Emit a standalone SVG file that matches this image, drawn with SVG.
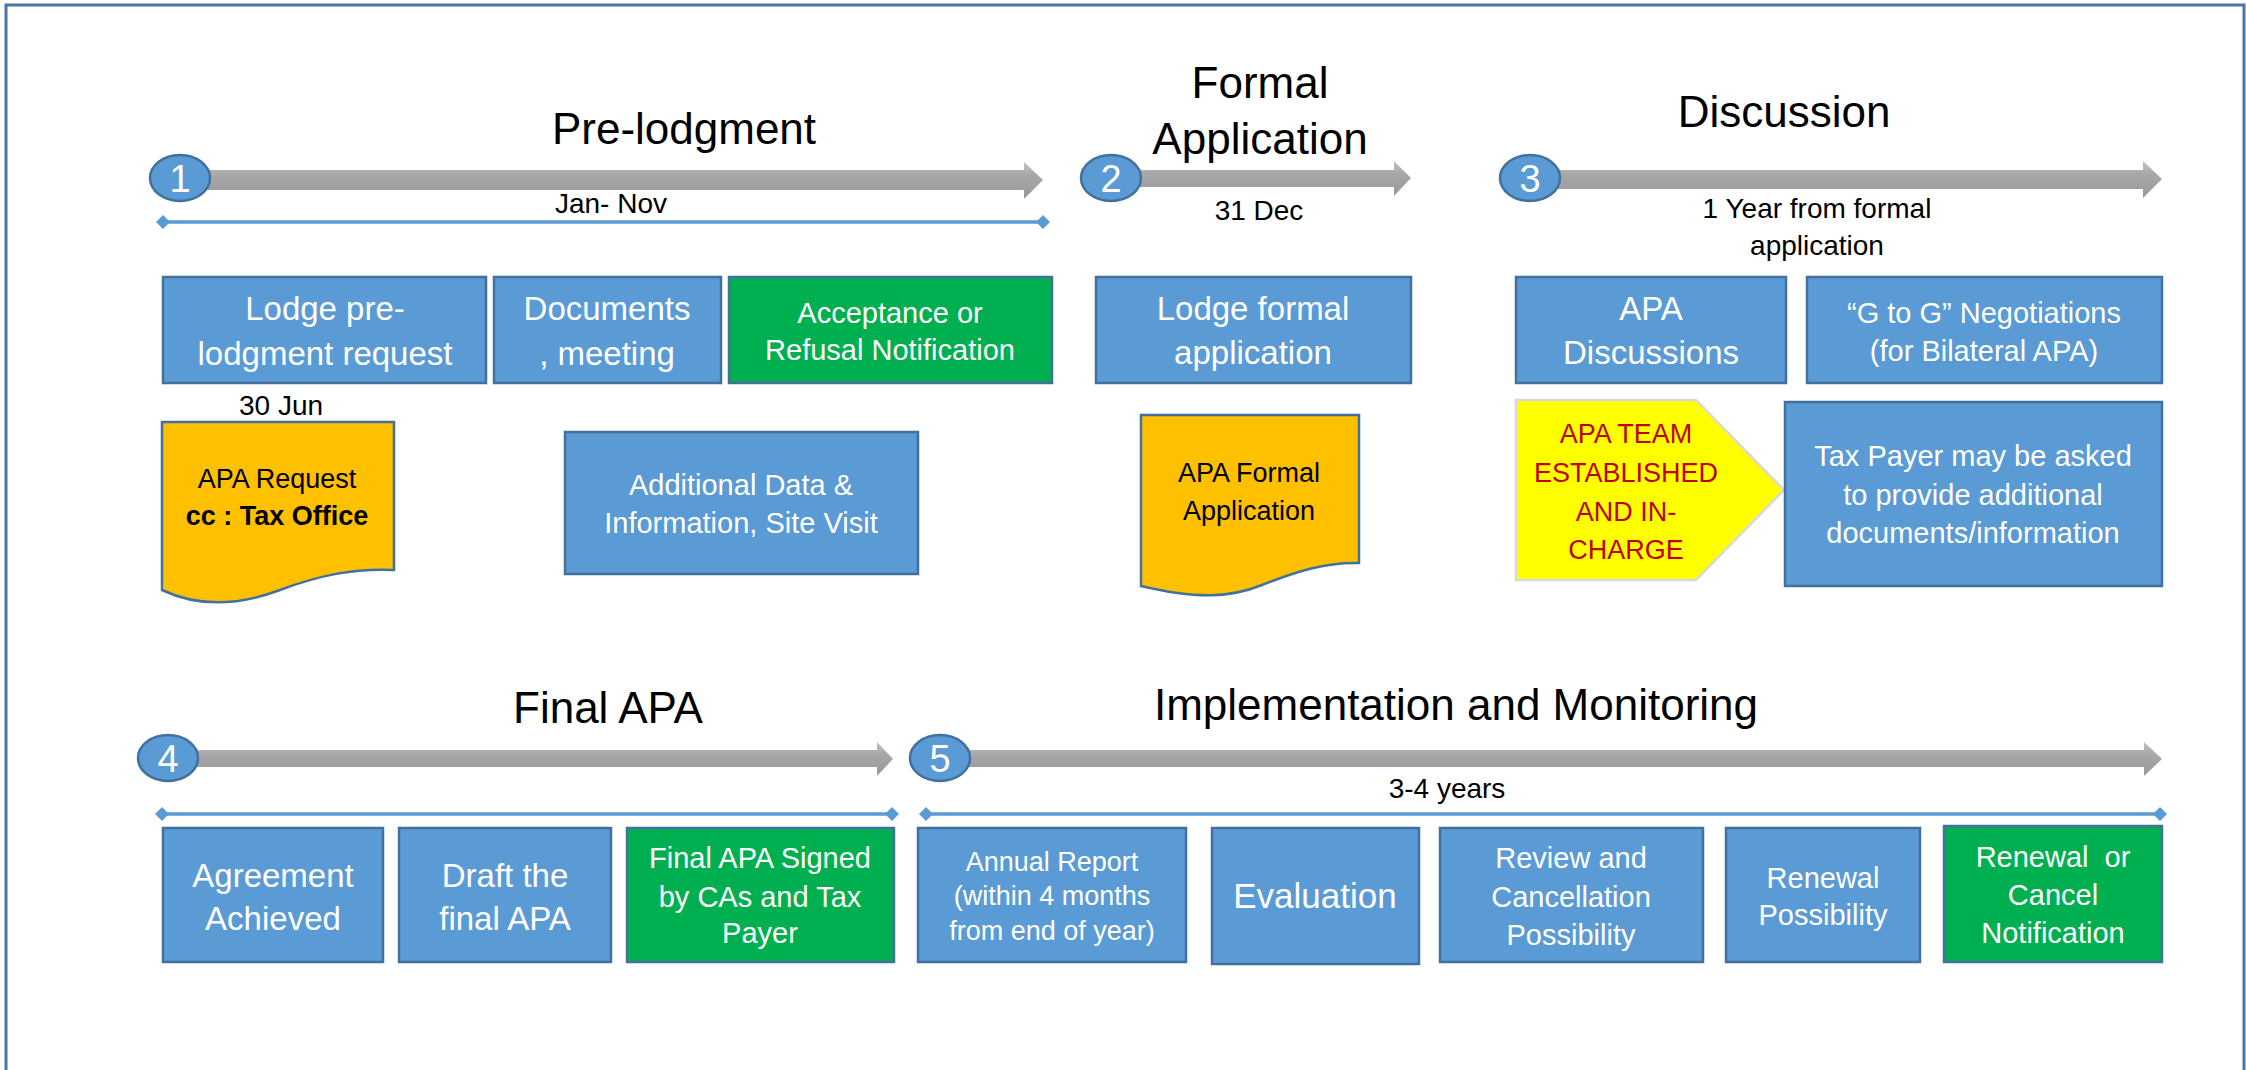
<svg xmlns="http://www.w3.org/2000/svg" width="2246" height="1070" viewBox="0 0 2246 1070">
<defs>
<linearGradient id="gr" x1="0" y1="0" x2="0" y2="1">
<stop offset="0" stop-color="#c4c4c4"/>
<stop offset="0.35" stop-color="#a8a8a8"/>
<stop offset="1" stop-color="#989898"/>
</linearGradient>
<marker id="dm" viewBox="-7 -7 14 14" markerWidth="14" markerHeight="14" markerUnits="userSpaceOnUse" refX="0" refY="0" orient="auto">
<path d="M-7,0 L0,-7 L7,0 L0,7 Z" fill="#5b9bd5"/>
</marker>
<style>
text{font-family:"Liberation Sans",Arial,sans-serif;text-anchor:middle}
.t{font-size:44px;fill:#000}
.l{font-size:28px;fill:#000}
.bx{fill:#5b9bd5;stroke:#41719c;stroke-width:2.5}
.gn{fill:#00b050;stroke:#41719c;stroke-width:2.5}
.dc{fill:#ffc000;stroke:#41719c;stroke-width:2.5}
.w{fill:#fff;font-size:33px}
.ws{fill:#fff;font-size:29px}
.k{fill:#000;font-size:27px}
.r{fill:#c00000;font-size:27px}
.ci{fill:#5b9bd5;stroke:#41719c;stroke-width:2.5}
.cn{fill:#fff;font-size:38px}
.ar{fill:url(#gr)}
.tl{stroke:#5b9bd5;stroke-width:3.5;fill:none;marker-start:url(#dm);marker-end:url(#dm)}
</style>
</defs>
<rect x="6" y="5" width="2238" height="1080" fill="#fff" stroke="#4a76a8" stroke-width="3"/>

<g id="connectors">
<path class="ar" d="M200,170 H1024 V162 L1043,180 L1024,199 V190 H200 Z"/>
<path class="ar" d="M1130,170 H1394 V161 L1411,178 L1394,196 V187 H1130 Z"/>
<path class="ar" d="M1550,170 H2143 V161 L2162,179 L2143,198 V189 H1550 Z"/>
<path class="ar" d="M190,750 H877 V742 L893,759 L877,776 V767 H190 Z"/>
<path class="ar" d="M960,750 H2144 V742 L2162,759 L2144,776 V767 H960 Z"/>
<line class="tl" x1="163" y1="222" x2="1043" y2="222"/>
<line class="tl" x1="162" y1="814" x2="892" y2="814"/>
<line class="tl" x1="926" y1="814" x2="2160" y2="814"/>
</g>

<g id="titles">
<text class="t" x="684" y="144">Pre-lodgment</text>
<text class="t" x="1260" y="98">Formal</text>
<text class="t" x="1260" y="154">Application</text>
<text class="t" x="1784" y="127">Discussion</text>
<text class="t" x="608" y="723">Final APA</text>
<text class="t" x="1456" y="720">Implementation and Monitoring</text>
<text class="l" x="611" y="213">Jan- Nov</text>
<text class="l" x="1259" y="220">31 Dec</text>
<text class="l" x="1817" y="218">1 Year from formal</text>
<text class="l" x="1817" y="255">application</text>
<text class="l" x="281" y="415">30 Jun</text>
<text class="l" x="1447" y="798">3-4 years</text>
</g>

<g id="step1"><ellipse class="ci" cx="180" cy="178" rx="30" ry="23"/><text class="cn" x="180" y="192">1</text></g>
<g id="step2"><ellipse class="ci" cx="1111" cy="178" rx="30" ry="23"/><text class="cn" x="1111" y="192">2</text></g>
<g id="step3"><ellipse class="ci" cx="1530" cy="178" rx="30" ry="23"/><text class="cn" x="1530" y="192">3</text></g>
<g id="step4"><ellipse class="ci" cx="168" cy="758" rx="30" ry="23"/><text class="cn" x="168" y="772">4</text></g>
<g id="step5"><ellipse class="ci" cx="940" cy="758" rx="30" ry="23"/><text class="cn" x="940" y="772">5</text></g>

<g id="lodge-pre"><rect class="bx" x="163" y="277" width="323" height="106"/>
<text class="w" x="325" y="320">Lodge pre-</text><text class="w" x="325" y="365">lodgment request</text></g>
<g id="documents"><rect class="bx" x="494" y="277" width="227" height="106"/>
<text class="w" x="607" y="320">Documents</text><text class="w" x="607" y="365">, meeting</text></g>
<g id="acceptance"><rect class="gn" x="729" y="277" width="323" height="106"/>
<text class="ws" x="890" y="323">Acceptance or</text><text class="ws" x="890" y="360">Refusal Notification</text></g>

<g id="apa-request"><path class="dc" d="M162,422 H394 V570 C355,568 320,575 280,590 C240,605 200,608 162,590 Z"/>
<text class="k" x="277" y="488">APA Request</text><text class="k" x="277" y="525" font-weight="bold">cc : Tax Office</text></g>
<g id="additional"><rect class="bx" x="565" y="432" width="353" height="142"/>
<text class="ws" x="741" y="495">Additional Data &amp;</text><text class="ws" x="741" y="533">Information, Site Visit</text></g>

<g id="lodge-formal"><rect class="bx" x="1096" y="277" width="315" height="106"/>
<text class="w" x="1253" y="320">Lodge formal</text><text class="w" x="1253" y="364">application</text></g>
<g id="apa-formal"><path class="dc" d="M1141,415 H1359 V563 C1325,562 1295,572 1262,585 C1232,597 1200,600 1141,586 Z"/>
<text class="k" x="1249" y="482">APA Formal</text><text class="k" x="1249" y="520">Application</text></g>

<g id="apa-discussions"><rect class="bx" x="1516" y="277" width="270" height="106"/>
<text class="w" x="1651" y="320">APA</text><text class="w" x="1651" y="364">Discussions</text></g>
<g id="g-to-g"><rect class="bx" x="1807" y="277" width="355" height="106"/>
<text class="ws" x="1984" y="323">“G to G” Negotiations</text><text class="ws" x="1984" y="361">(for Bilateral APA)</text></g>
<g id="apa-team"><polygon points="1516,400 1696,400 1784,490 1696,580 1516,580" fill="#ffff00" stroke="#d9d9d9" stroke-width="2.5"/>
<text class="r" x="1626" y="443">APA TEAM</text><text class="r" x="1626" y="482">ESTABLISHED</text><text class="r" x="1626" y="521">AND IN-</text><text class="r" x="1626" y="559">CHARGE</text></g>
<g id="tax-payer"><rect class="bx" x="1785" y="402" width="377" height="184"/>
<text class="ws" x="1973" y="466">Tax Payer may be asked</text><text class="ws" x="1973" y="505">to provide additional</text><text class="ws" x="1973" y="543">documents/information</text></g>

<g id="agreement"><rect class="bx" x="163" y="828" width="220" height="134"/>
<text class="w" x="273" y="887">Agreement</text><text class="w" x="273" y="930">Achieved</text></g>
<g id="draft"><rect class="bx" x="399" y="828" width="212" height="134"/>
<text class="w" x="505" y="887">Draft the</text><text class="w" x="505" y="930">final APA</text></g>
<g id="final-signed"><rect class="gn" x="627" y="828" width="267" height="134"/>
<text class="ws" x="760" y="868">Final APA Signed</text><text class="ws" x="760" y="907">by CAs and Tax</text><text class="ws" x="760" y="943">Payer</text></g>

<g id="annual-report"><rect class="bx" x="918" y="828" width="268" height="134"/>
<text class="k" x="1052" y="871" style="fill:#fff">Annual Report</text><text class="k" x="1052" y="905" style="fill:#fff">(within 4 months</text><text class="k" x="1052" y="940" style="fill:#fff">from end of year)</text></g>
<g id="evaluation"><rect class="bx" x="1212" y="828" width="207" height="136"/>
<text class="w" x="1315" y="908" style="font-size:35px">Evaluation</text></g>
<g id="review"><rect class="bx" x="1440" y="828" width="263" height="134"/>
<text class="ws" x="1571" y="868">Review and</text><text class="ws" x="1571" y="907">Cancellation</text><text class="ws" x="1571" y="945">Possibility</text></g>
<g id="renewal-possibility"><rect class="bx" x="1726" y="828" width="194" height="134"/>
<text class="ws" x="1823" y="888">Renewal</text><text class="ws" x="1823" y="925">Possibility</text></g>
<g id="renewal-cancel"><rect class="gn" x="1944" y="826" width="218" height="136"/>
<text class="ws" x="2053" y="867" style="white-space:pre">Renewal  or</text><text class="ws" x="2053" y="905">Cancel</text><text class="ws" x="2053" y="943">Notification</text></g>
</svg>
